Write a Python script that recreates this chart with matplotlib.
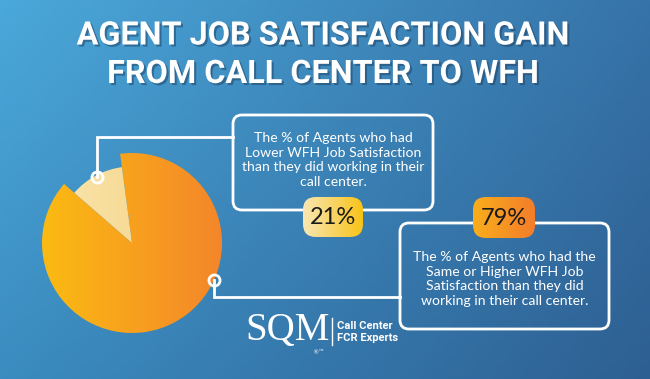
import numpy as np
import matplotlib
matplotlib.use("Agg")
import matplotlib.pyplot as plt
from matplotlib.patches import FancyBboxPatch
from matplotlib.colors import LinearSegmentedColormap
import matplotlib.patheffects as pe

# --- Data ---
TITLE = ["AGENT JOB SATISFACTION GAIN", "FROM CALL CENTER TO WFH"]
categories = ["Same or Higher WFH Job Satisfaction", "Lower WFH Job Satisfaction"]
pct_labels = ["79%", "21%"]
# slice sizes as they are drawn in the graphic (share of the circle)
drawn_share = [88.5, 11.5]
descriptions = [
    "The % of Agents who had the\nSame or Higher WFH Job\nSatisfaction than they did\nworking in their call center.",
    "The % of Agents who had\nLower WFH Job Satisfaction\nthan they did working in their\ncall center.",
]

W, H = 650, 379
BG_CORNERS = {"tl": "#4ba8da", "tr": "#3673a8", "bl": "#3b8cc0", "br": "#2e5f92"}


def rgb(c):
    return np.array(matplotlib.colors.to_rgb(c))


def Y(y):
    # image coordinates (y down) -> axes coordinates (y up)
    return H - y


def gradient_fill(ax, patch, c0, c1, extent, z=2):
    t = np.linspace(0, 1, 256)[None, :]
    cmap = LinearSegmentedColormap.from_list("g", [c0, c1])
    im = ax.imshow(t, cmap=cmap, extent=extent, origin="lower",
                   aspect="auto", zorder=z, interpolation="bilinear")
    im.set_clip_path(patch)
    return im


fig = plt.figure(figsize=(6.5, 3.79), dpi=100)
ax = fig.add_axes([0, 0, 1, 1])

# background gradient
u = np.linspace(0, 1, 200)[None, :, None]
v = np.linspace(0, 1, 120)[:, None, None]
tl, tr, bl, br = (rgb(BG_CORNERS[k]) for k in ("tl", "tr", "bl", "br"))
bg = (1 - u) * (1 - v) * bl + u * (1 - v) * br + (1 - u) * v * tl + u * v * tr
ax.imshow(bg, extent=[0, W, 0, H], origin="lower", aspect="auto", zorder=0)

# --- Pie ---
cx, cy, R = 132, Y(243), 90
wedges, _ = ax.pie(drawn_share[::-1], center=(cx, cy), radius=R, startangle=97.6,
                   counterclock=True, colors=["none", "none"],
                   wedgeprops=dict(linewidth=0))
light, main = wedges
light.set_radius(R * 0.85)
ext = [cx - R, cx + R, cy - R, cy + R]
gradient_fill(ax, main, "#fbbb12", "#f4862a", ext, z=3)
gradient_fill(ax, light, "#f9e6b0", "#f6d07c", ext, z=3)

# connector lines
ax.plot([97, 97, 233], [Y(177), Y(137), Y(137)], color="white", lw=2, zorder=4,
        solid_joinstyle="miter")
ax.plot([214, 214, 400], [Y(280), Y(297), Y(297)], color="white", lw=2, zorder=4,
        solid_joinstyle="miter")
for px, py in [(97, 177), (214, 280)]:
    ax.plot(px, Y(py), "o", ms=8, mfc="none", mec="white", mew=2, zorder=5)

# --- Text boxes ---
boxes = [(400, 223, 609, 329), (233, 115, 433, 210)]
text_ys = [279, 160]
for (x0, y0, x1, y1), desc, ty in zip(boxes, descriptions, text_ys):
    ax.add_patch(FancyBboxPatch((x0, Y(y1)), x1 - x0, y1 - y0,
                                boxstyle="round,pad=0,rounding_size=9",
                                fc="none", ec="white", lw=2, zorder=4))
    ax.text((x0 + x1) / 2, Y(ty), desc, ha="center", va="center", color="white",
            fontsize=10.1, family=["Lato", "DejaVu Sans"], linespacing=1.25, zorder=5)

# --- Percentage badges ---
badges = [(473, 197, 535, 238), (303, 197, 363, 237)]
badge_cols = [("#f9ae1c", "#f37d2a"), ("#f8e7b4", "#f9c318")]
for (x0, y0, x1, y1), lab, (c0, c1) in zip(badges, pct_labels, badge_cols):
    bp = FancyBboxPatch((x0, Y(y1)), x1 - x0, y1 - y0,
                        boxstyle="round,pad=0,rounding_size=13",
                        fc="none", ec="none", zorder=6)
    ax.add_patch(bp)
    gradient_fill(ax, bp, c0, c1, [x0, x1, Y(y1), Y(y0)], z=6)
    ax.text((x0 + x1) / 2, Y((y0 + y1) / 2 + 1), lab, ha="center", va="center",
            color="#1a1a1a", fontsize=17, family=["Lato", "DejaVu Sans"], zorder=7)

# --- Title ---
for line, ty in zip(TITLE, [35.5, 74]):
    ax.text(323, Y(ty), line, ha="center", va="center", color="white",
            fontsize=23.3, fontweight="bold", family=["Roboto", "DejaVu Sans"], zorder=8,
            path_effects=[pe.withSimplePatchShadow(offset=(1.5, -1.5), shadow_rgbFace="#1d3f60",
                                                    alpha=0.5)])

# --- Logo ---
ax.text(288, Y(331), "SQM", ha="center", va="center", color="white", fontsize=28,
        family=["Liberation Serif", "DejaVu Serif"], zorder=8)
ax.plot([332, 332], [Y(318), Y(345)], color="white", lw=1, zorder=8)
ax.text(337, Y(326), "Call Center", ha="left", va="center", color="white",
        fontsize=8, fontweight="bold", family=["Liberation Sans Narrow", "Roboto"], zorder=8)
ax.text(337, Y(338), "FCR Experts", ha="left", va="center", color="white",
        fontsize=8, fontweight="bold", family=["Liberation Sans Narrow", "Roboto"], zorder=8)
ax.text(318, Y(353), "®™", ha="center", va="center", color="white", fontsize=4.5, zorder=8)

ax.set_xlim(0, W)
ax.set_ylim(0, H)
ax.set_aspect("auto")
ax.axis("off")
fig.savefig("out.png", dpi=100)
